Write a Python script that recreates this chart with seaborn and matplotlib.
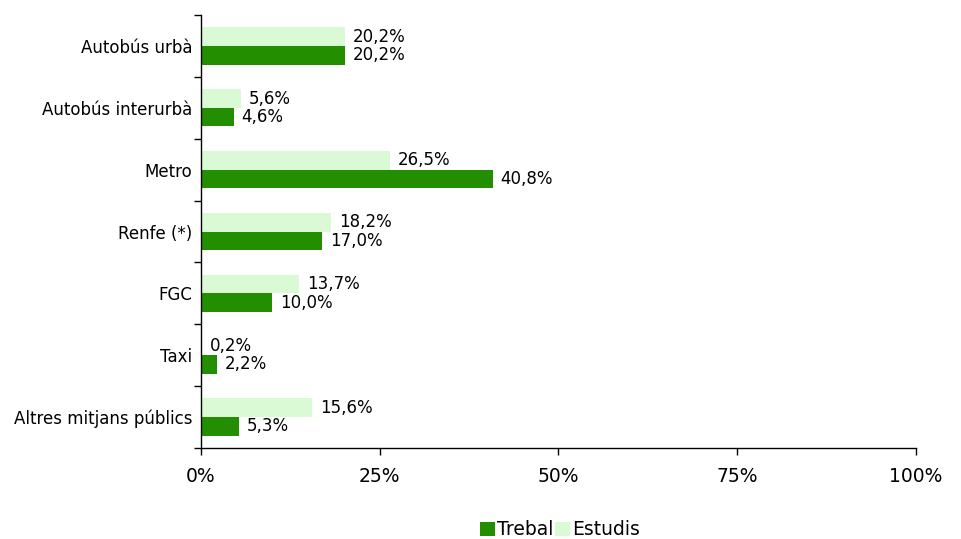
import numpy as np
import pandas as pd
import matplotlib
matplotlib.use("Agg")
import matplotlib.pyplot as plt
import seaborn as sns
from matplotlib.patches import Patch

# Dades llegides del gràfic
CATEGORIES = ["Autobús urbà", "Autobús interurbà", "Metro", "Renfe (*)", "FGC", "Taxi",
              "Altres mitjans públics"]
TREBALL = [20.2, 4.6, 40.8, 17.0, 10.0, 2.2, 5.3]
ESTUDIS = [20.2, 5.6, 26.5, 18.2, 13.7, 0.2, 15.6]
SERIES = ["Estudis", "Trebal"]
X_TICKS = [0, 25, 50, 75, 100]

DARK = "#238E00"
LIGHT = "#DAFAD6"


def fmt(v):
    return f"{v:.1f}".replace(".", ",") + "%"


def main():
    sns.set_style("white")
    plt.rcParams["font.family"] = ["DejaVu Sans"]
    plt.rcParams["text.color"] = "black"
    plt.rcParams["xtick.color"] = "black"
    plt.rcParams["ytick.color"] = "black"

    df = pd.DataFrame({
        "cat": CATEGORIES * 2,
        "val": ESTUDIS + TREBALL,
        "serie": ["Estudis"] * len(CATEGORIES) + ["Trebal"] * len(CATEGORIES),
    })

    fig = plt.figure(figsize=(9.61, 5.39), dpi=100)
    ax = fig.add_axes([0.209, 0.169, 0.744, 0.803])

    sns.barplot(data=df, y="cat", x="val", hue="serie", hue_order=SERIES, order=CATEGORIES,
                palette=[LIGHT, DARK], orient="h", width=0.6, ax=ax, legend=False,
                saturation=1, edgecolor="none")

    for cont in ax.containers:
        for bar in cont:
            w = bar.get_width()
            yc = bar.get_y() + bar.get_height() / 2
            ax.text(w + 1.1, yc, fmt(w), va="center", ha="left", fontsize=12, color="black")

    ax.set_xlim(0, 100)
    ax.set_ylim(len(CATEGORIES) - 0.5, -0.5)
    ax.set_xticks(X_TICKS)
    ax.set_xticklabels([f"{t}%" for t in X_TICKS], fontsize=13.5)
    ax.tick_params(axis="x", direction="out", length=5, width=1, pad=9, bottom=True)
    ax.set_yticks(np.arange(len(CATEGORIES)))
    ax.set_yticklabels(CATEGORIES, fontsize=12)
    ax.tick_params(axis="y", which="major", length=0, pad=6)
    ax.set_yticks(np.arange(len(CATEGORIES) + 1) - 0.5, minor=True)
    ax.tick_params(axis="y", which="minor", direction="out", length=5, width=1, left=True)
    ax.set_xlabel("")
    ax.set_ylabel("")

    for s in ["top", "right"]:
        ax.spines[s].set_visible(False)
    for s in ["left", "bottom"]:
        ax.spines[s].set_color("black")
        ax.spines[s].set_linewidth(1)

    handles = [Patch(facecolor=DARK, edgecolor="none"), Patch(facecolor=LIGHT, edgecolor="none")]
    fig.legend(handles, ["Trebal", "Estudis"], loc="center", bbox_to_anchor=(0.583, 0.017),
               ncol=2, frameon=False, fontsize=13.5, handlelength=0.8, handleheight=0.8,
               handletextpad=0.1, columnspacing=0.1, borderpad=0)

    fig.savefig("out.png", dpi=100)


if __name__ == "__main__":
    main()
